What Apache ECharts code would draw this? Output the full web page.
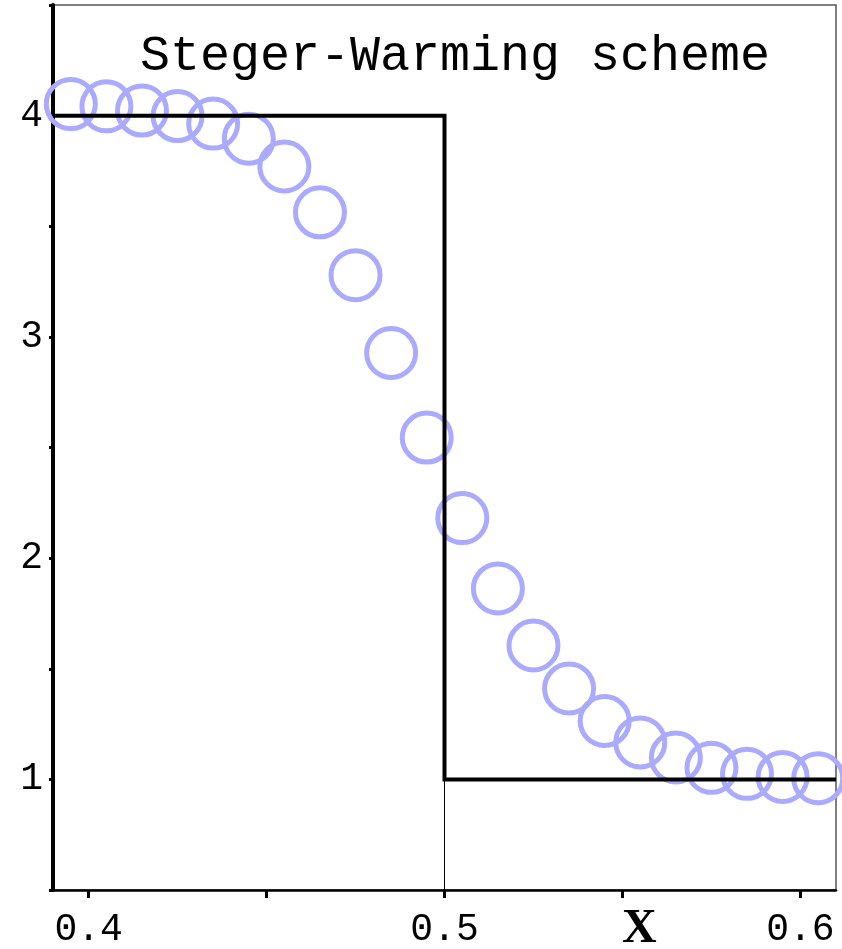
<!DOCTYPE html>
<html>
<head>
<meta charset="utf-8">
<script src="https://cdn.jsdelivr.net/npm/echarts@6/dist/echarts.min.js"></script>
<style>html,body{margin:0;padding:0;background:#fff}#c{width:842px;height:949px}</style>
</head>
<body>
<div id="c"></div>
<script>
// numerical solution (Steger-Warming), cell centres
const xNum = [0.395,0.405,0.415,0.425,0.435,0.445,0.455,0.465,0.475,0.485,0.495,
              0.505,0.515,0.525,0.535,0.545,0.555,0.565,0.575,0.585,0.595,0.605];
const yNum = [4.052,4.042,4.023,3.998,3.964,3.896,3.770,3.563,3.279,2.927,2.545,
              2.181,1.863,1.605,1.411,1.264,1.167,1.099,1.052,1.025,1.011,1.005];
// exact solution
const xExact = [0.39,0.5,0.5,0.61];
const yExact = [4,4,1,1];
const xDrop = [0.5,0.5];
const yDrop = [1,0.5];
const xTickValues = [0.4,0.45,0.5,0.55,0.6];
const xLabelValues = [0.4,0.5,0.55,0.6];
const yLabelValues = [1,2,3,4];
const titleText = 'Steger-Warming scheme';
const xName = 'X';

const zip = (a,b)=>a.map((v,i)=>[v,b[i]]);
const chart = echarts.init(document.getElementById('c'), null, {renderer:'canvas'});
const mono = 'Liberation Mono';
chart.setOption({
  animation:false,
  backgroundColor:'#fff',
  grid:{left:53,right:6,top:5,bottom:59,outerBoundsMode:'none',containLabel:false,show:true,borderColor:'#555',borderWidth:1.5,backgroundColor:'transparent'},
  graphic:[{type:'text',x:455,y:57,style:{text:titleText,font:'normal 50px "'+mono+'"',fill:'#000',textAlign:'center',textVerticalAlign:'middle'}}],
  xAxis:{type:'value',min:0.39,max:0.61,
    axisLine:{show:true,onZero:false,lineStyle:{color:'#000',width:2.5}},
    axisTick:{show:true,customValues:xTickValues,length:8,lineStyle:{color:'#000',width:3}},
    axisLabel:{customValues:xLabelValues,margin:20,color:'#000',fontFamily:mono,fontSize:38,lineHeight:40,hideOverlap:false,
      formatter:v=>Math.abs(v-0.55)<1e-9?'{x|'+xName+'}':v.toFixed(1),
      rich:{x:{fontFamily:'Liberation Serif',fontWeight:'bold',fontSize:48,lineHeight:40,color:'#000',padding:[0,0,0,34]}}},
    splitLine:{show:false}},
  yAxis:{type:'value',min:0.5,max:4.5,interval:0.5,
    axisLine:{show:true,onZero:false,lineStyle:{color:'#000',width:4}},
    axisTick:{show:true,length:4,lineStyle:{color:'#000',width:3}},
    axisLabel:{customValues:yLabelValues,margin:10,color:'#000',fontFamily:mono,fontSize:38,formatter:v=>String(v)},
    splitLine:{show:false}},
  series:[
    {type:'scatter',data:zip(xNum,yNum),symbol:'circle',symbolSize:49,z:2,
     itemStyle:{color:'rgba(0,0,0,0)',borderColor:'#aaaaff',borderWidth:5,opacity:1}},
    {type:'line',data:zip(xExact,yExact),symbol:'none',z:3,clip:true,
     lineStyle:{color:'#000',width:4,join:'miter'}},
    {type:'line',data:zip(xDrop,yDrop),symbol:'none',z:3,
     lineStyle:{color:'#000',width:1}}
  ]
});
</script>
</body>
</html>
